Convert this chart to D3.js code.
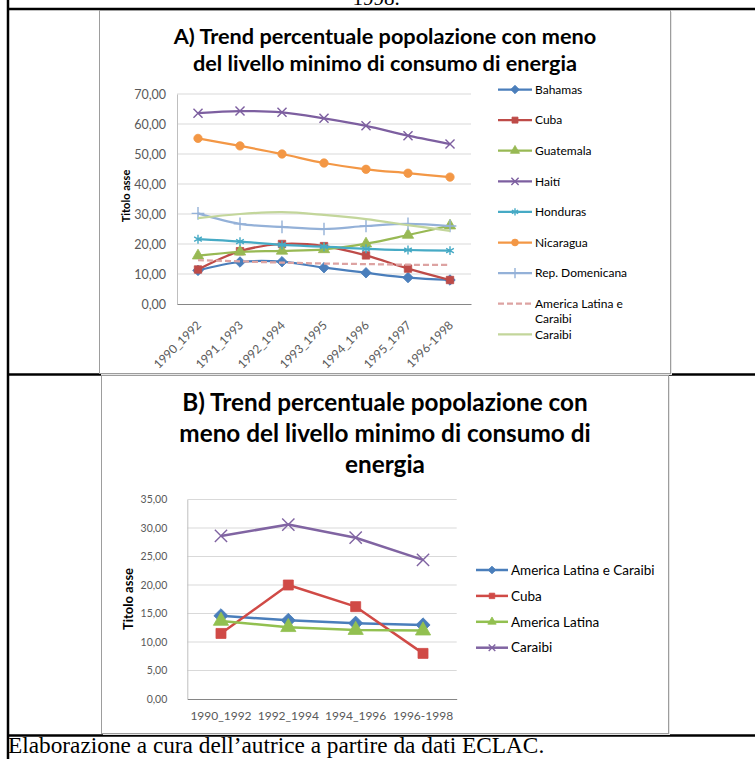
<!DOCTYPE html>
<html>
<head>
<meta charset="utf-8">
<script src="https://cdn.jsdelivr.net/npm/d3@7"></script>
<style>
  html, body { margin: 0; padding: 0; background: #fff; }
  svg { display: block; }
</style>
</head>
<body>
<svg id="page" width="755" height="759"></svg>
<script>
// ---- Chart A: seven three-year periods ----
const categoriesA = ["1990_1992", "1991_1993", "1992_1994", "1993_1995", "1994_1996", "1995_1997", "1996-1998"];
const bahamas   = [11.2, 14.0, 14.1, 12.1, 10.4, 8.8, 8.0];
const cuba      = [11.5, 17.6, 20.0, 19.3, 16.2, 11.8, 8.0];
const guatemala = [16.1, 17.4, 17.7, 18.2, 20.1, 23.0, 26.1];
const haiti     = [63.6, 64.3, 63.9, 61.9, 59.4, 56.1, 53.3];
const honduras  = [21.6, 20.8, 19.7, 19.1, 18.4, 18.0, 17.8];
const nicaragua = [55.2, 52.7, 50.0, 47.0, 44.9, 43.6, 42.3];
const repDom    = [30.2, 26.7, 25.7, 25.0, 26.0, 26.7, 26.0];
const latamCar  = [14.6, 14.2, 13.8, 13.5, 13.3, 13.1, 13.0];
const caraibi   = [28.6, 30.0, 30.6, 29.7, 28.3, 26.3, 24.4];
const ticksA    = ["0,00", "10,00", "20,00", "30,00", "40,00", "50,00", "60,00", "70,00"];

// ---- Chart B: four periods, regional aggregates ----
const categoriesB = ["1990_1992", "1992_1994", "1994_1996", "1996-1998"];
const latamCarB   = [14.6, 13.8, 13.3, 13.0];
const cubaB       = [11.5, 20.0, 16.2, 8.0];
const latamB      = [13.7, 12.6, 12.1, 12.0];
const caraibiB    = [28.6, 30.6, 28.3, 24.4];
const ticksB      = ["0,00", "5,00", "10,00", "15,00", "20,00", "25,00", "30,00", "35,00"];

const num = s => +s.replace(",", ".");
const svg = d3.select("#page");
const SANS = "Lato, 'Open Sans', sans-serif";
const SERIF = "'Liberation Serif', 'DejaVu Serif', serif";

// ---------- document table frame ----------
svg.append("text").attr("x", 376).attr("y", 5).attr("text-anchor", "middle")
  .attr("font-family", SERIF).attr("font-size", 21).attr("fill", "#000").text("1998.");

const frame = svg.append("g").attr("stroke", "#000").attr("stroke-width", 2.5);
frame.append("line").attr("x1", 8).attr("x2", 755).attr("y1", 9).attr("y2", 9);
frame.append("line").attr("x1", 8).attr("x2", 755).attr("y1", 374.5).attr("y2", 374.5);
frame.append("line").attr("x1", 8).attr("x2", 755).attr("y1", 735.5).attr("y2", 735.5);
frame.append("line").attr("x1", 8).attr("x2", 8).attr("y1", 0).attr("y2", 759);

svg.append("text").attr("x", 8).attr("y", 753)
  .attr("font-family", SERIF).attr("font-size", 23.3).attr("fill", "#000")
  .text("Elaborazione a cura dell\u2019autrice a partire da dati ECLAC.");

// ---------- helpers ----------
function markerPath(kind, size) {
  const map = {
    diamond: d3.symbolSquare, square: d3.symbolSquare, triangle: d3.symbolTriangle,
    times: d3.symbolTimes, asterisk: d3.symbolAsterisk, circle: d3.symbolCircle, plus: d3.symbolPlus
  };
  return d3.symbol().type(map[kind]).size(size)();
}
const strokeOnly = k => k === "times" || k === "asterisk" || k === "plus";

function drawMarker(g, kind, size, color, x, y) {
  if (!kind) return;
  const p = g.append("path").attr("d", markerPath(kind, size))
    .attr("transform", `translate(${x},${y})` + (kind === "diamond" ? " rotate(45)" : ""));
  if (strokeOnly(kind)) p.attr("fill", "none").attr("stroke", color).attr("stroke-width", 1.4);
  else p.attr("fill", color).attr("stroke", color).attr("stroke-width", 0.8);
}

function chartBox(x0, y0, x1, y1) {
  svg.append("rect").attr("x", x0 + 1.5).attr("y", y0 + 1.5).attr("width", x1 - x0).attr("height", y1 - y0)
    .attr("fill", "#e6e6e6");
  svg.append("rect").attr("x", x0).attr("y", y0).attr("width", x1 - x0).attr("height", y1 - y0)
    .attr("fill", "#fff").attr("stroke", "#9d9d9d").attr("stroke-width", 1);
}

function drawChart(cfg) {
  const g = svg.append("g");
  const x = d3.scaleBand().domain(cfg.categories).range([cfg.left, cfg.right]);
  const cx = c => x(c) + x.bandwidth() / 2;
  const y = d3.scaleLinear().domain([0, num(cfg.ticks[cfg.ticks.length - 1])]).range([cfg.bottom, cfg.top]);

  // gridlines
  g.append("g").selectAll("line").data(cfg.ticks.slice(1)).join("line")
    .attr("x1", cfg.left).attr("x2", cfg.right)
    .attr("y1", t => y(num(t))).attr("y2", t => y(num(t)))
    .attr("stroke", "#d9d9d9").attr("stroke-width", 1);

  // y axis with comma-formatted labels
  const yAxis = d3.axisLeft(y).tickValues(cfg.ticks.map(num)).tickSize(0).tickPadding(cfg.yPad)
    .tickFormat((d, i) => cfg.ticks[i]);
  const ya = g.append("g").attr("transform", `translate(${cfg.left},0)`).call(yAxis);
  ya.select(".domain").attr("stroke", "#bfbfbf");
  ya.selectAll("text").attr("font-family", SANS).attr("font-size", cfg.yFont).attr("fill", "#595959");

  // x axis
  const xAxis = d3.axisBottom(x).tickSize(0).tickPadding(0);
  const xa = g.append("g").attr("transform", `translate(0,${cfg.bottom})`).call(xAxis);
  xa.select(".domain").attr("stroke", "#868686");
  const xt = xa.selectAll("text").attr("font-family", SANS).attr("font-size", cfg.xFont).attr("fill", "#595959");
  if (cfg.rotateX) {
    xt.attr("text-anchor", "end").attr("dy", 0).attr("y", 0)
      .attr("transform", `translate(4,${cfg.xLabelY}) rotate(-45)`);
  } else {
    xt.attr("y", cfg.xLabelY).attr("dy", 0);
  }

  // axis title
  g.append("text").attr("transform", `translate(${cfg.yTitleX},${cfg.yTitleY}) rotate(-90)`)
    .attr("text-anchor", "middle").attr("font-family", SANS).attr("font-weight", 700)
    .attr("font-size", cfg.yTitleFont).attr("fill", "#000").text("Titolo asse");

  // chart title
  cfg.title.forEach((line, i) => {
    g.append("text").attr("x", cfg.titleX).attr("y", cfg.titleY + i * cfg.titleGap)
      .attr("text-anchor", "middle").attr("font-family", SANS).attr("font-weight", 700)
      .attr("font-size", cfg.titleFont).attr("fill", "#000").text(line);
  });

  // series
  const line = d3.line().x((d, i) => cx(cfg.categories[i])).y(d => y(d)).curve(cfg.curve);
  cfg.series.forEach(s => {
    g.append("path").attr("d", line(s.values)).attr("fill", "none")
      .attr("stroke", s.color).attr("stroke-width", cfg.lineWidth)
      .attr("stroke-dasharray", s.dash || null).attr("stroke-linejoin", "round");
    s.values.forEach((v, i) => drawMarker(g, s.marker, cfg.markerSize, s.color, cx(cfg.categories[i]), y(v)));
  });

  // legend
  let ly = cfg.legendY;
  cfg.series.forEach(s => {
    const lines = s.legend || [s.name];
    g.append("line").attr("x1", cfg.legendX).attr("x2", cfg.legendX + cfg.legendLen)
      .attr("y1", ly).attr("y2", ly).attr("stroke", s.color).attr("stroke-width", cfg.lineWidth)
      .attr("stroke-dasharray", s.dash || null);
    drawMarker(g, s.marker, cfg.legendMarker, s.color, cfg.legendX + cfg.legendLen / 2, ly);
    lines.forEach((t, k) => {
      g.append("text").attr("x", cfg.legendX + cfg.legendLen + 3).attr("y", ly + k * cfg.legendLineGap)
        .attr("dy", "0.35em").attr("font-family", SANS).attr("font-size", cfg.legendFont)
        .attr("fill", "#000").text(t);
    });
    ly += cfg.legendGap;
  });
}

// ---------- Chart A ----------
chartBox(99.5, 10.5, 670.5, 373.5);
drawChart({
  categories: categoriesA, ticks: ticksA,
  left: 177, right: 471, top: 94, bottom: 304,
  yPad: 11, yFont: 12.5, xFont: 12, rotateX: true, xLabelY: 22,
  yTitleX: 130, yTitleY: 196, yTitleFont: 11,
  title: ["A) Trend percentuale popolazione con meno", "del livello minimo di consumo di energia"],
  titleX: 385, titleY: 44, titleGap: 27, titleFont: 21.7,
  curve: d3.curveCatmullRom.alpha(0.5), lineWidth: 2.25, markerSize: 55,
  legendX: 498, legendLen: 34, legendY: 89.5, legendGap: 30.6, legendLineGap: 15,
  legendFont: 12, legendMarker: 36,
  series: [
    { name: "Bahamas", values: bahamas, color: "#4a7ebb", marker: "diamond" },
    { name: "Cuba", values: cuba, color: "#be4b48", marker: "square" },
    { name: "Guatemala", values: guatemala, color: "#98b954", marker: "triangle" },
    { name: "Haiti", legend: ["Haití"], values: haiti, color: "#7d5fa0", marker: "times" },
    { name: "Honduras", values: honduras, color: "#46aac5", marker: "asterisk" },
    { name: "Nicaragua", values: nicaragua, color: "#f39745", marker: "circle" },
    { name: "Rep. Domenicana", values: repDom, color: "#94b1d8", marker: "plus" },
    { name: "America Latina e Caraibi", legend: ["America Latina e", "Caraibi"], values: latamCar,
      color: "#dda3a2", marker: null, dash: "6,3" },
    { name: "Caraibi", values: caraibi, color: "#c3d69b", marker: null }
  ]
});

// ---------- Chart B ----------
chartBox(101.5, 375.5, 668.5, 733.5);
drawChart({
  categories: categoriesB, ticks: ticksB,
  left: 187.3, right: 456.7, top: 499.5, bottom: 699,
  yPad: 20, yFont: 10.5, xFont: 12, rotateX: false, xLabelY: 21,
  yTitleX: 133, yTitleY: 599, yTitleFont: 13,
  title: ["B) Trend percentuale popolazione con", "meno del livello minimo di consumo di", "energia"],
  titleX: 385, titleY: 411, titleGap: 31, titleFont: 24.3,
  curve: d3.curveLinear, lineWidth: 2.5, markerSize: 100,
  legendX: 476, legendLen: 32, legendY: 570, legendGap: 25.9, legendLineGap: 15,
  legendFont: 13.5, legendMarker: 30,
  series: [
    { name: "America Latina e Caraibi", values: latamCarB, color: "#4a7ebb", marker: "diamond" },
    { name: "Cuba", values: cubaB, color: "#d04a46", marker: "square" },
    { name: "America Latina", values: latamB, color: "#92c050", marker: "triangle" },
    { name: "Caraibi", values: caraibiB, color: "#8064a2", marker: "times" }
  ]
});
</script>
</body>
</html>
